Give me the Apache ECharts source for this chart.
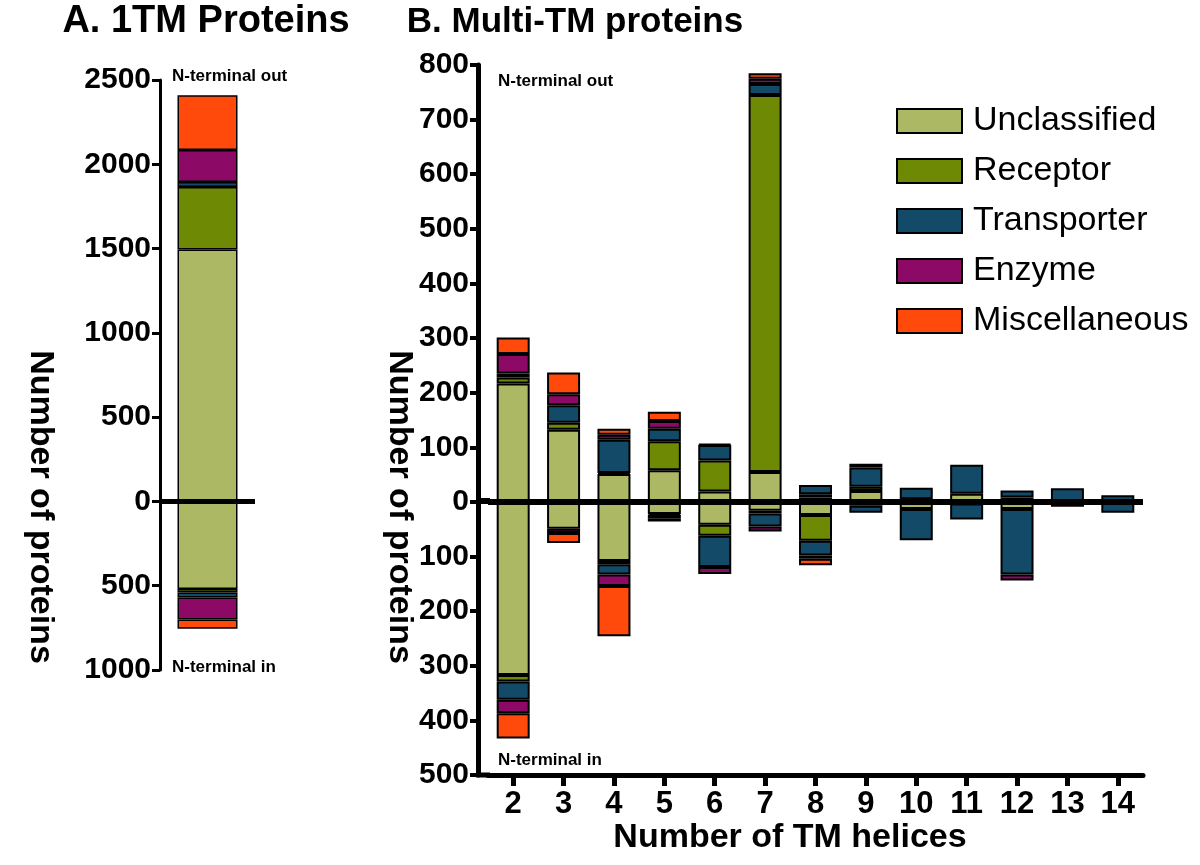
<!DOCTYPE html>
<html>
<head>
<meta charset="utf-8">
<script src="https://cdn.jsdelivr.net/npm/echarts@6/dist/echarts.min.js"></script>
<style>html,body{margin:0;padding:0;background:#fff}#c{width:1200px;height:865px}</style>
</head>
<body>
<div id="c"></div>
<script>
// ---------- DATA ----------
const categoryNames = ['Unclassified', 'Receptor', 'Transporter', 'Enzyme', 'Miscellaneous'];
const categoryColors = ['#adb864', '#6e8a04', '#124a68', '#8c0a66', '#ff4a0c'];

// Panel A: 1TM proteins (out = positive, in = negative), order as categoryNames
const aOut = [1495, 370, 30, 190, 325];
const aIn  = [-520, -20, -30, -130, -55];

// Panel B: multi-TM proteins by number of TM helices
const tmHelices = ['2', '3', '4', '5', '6', '7', '8', '9', '10', '11', '12', '13', '14'];
const bOutUnclassified  = [217, 132, 51, 58, 19, 55, 8, 20, 5, 15, 8, 0, 0];
const bOutReceptor      = [11, 13, 2, 53, 57, 690, 6, 8, 0, 0, 0, 0, 0];
const bOutTransporter   = [7, 32, 61, 23, 28, 20, 17, 35, 21, 53, 13, 25, 12];
const bOutEnzyme        = [36, 20, 9, 14, 2, 10, 0, 0, 0, 0, 0, 0, 0];
const bOutMisc          = [30, 40, 11, 17, 0, 10, 0, 7, 0, 0, 0, 0, 0];
const bInUnclassified   = [-317, -49, -108, -22, -42, -16, -24, -7, -13, -3, -13, 0, 0];
const bInReceptor       = [-12, 0, -6, -2, -20, -5, -47, 0, 0, 0, 0, 0, 0];
const bInTransporter    = [-33, 0, -19, -7, -57, -24, -27, -13, -57, -29, -120, -9, -20];
const bInEnzyme         = [-25, -8, -21, -5, -13, -9, -6, 0, 0, 0, -11, 0, 0];
const bInMisc           = [-46, -18, -92, 0, 0, 0, -12, 0, 0, 0, 0, 0, 0];

// ---------- BUILD ----------
const FF = "'Liberation Sans', Arial, Helvetica, sans-serif";
const bOut = [bOutUnclassified, bOutReceptor, bOutTransporter, bOutEnzyme, bOutMisc];
const bIn  = [bInUnclassified, bInReceptor, bInTransporter, bInEnzyme, bInMisc];
const nz = v => (v === 0 ? '-' : v);

const series = [];
categoryNames.forEach((name, i) => {
  const st = { color: categoryColors[i], borderColor: '#000', borderWidth: 1.5 };
  series.push({ type: 'bar', name, xAxisIndex: 0, yAxisIndex: 0, stack: 'A', barWidth: 60, itemStyle: st, data: [nz(aOut[i])] });
  series.push({ type: 'bar', name, xAxisIndex: 0, yAxisIndex: 0, stack: 'A', barWidth: 60, itemStyle: st, data: [nz(aIn[i])] });
});
categoryNames.forEach((name, i) => {
  const st = { color: categoryColors[i], borderColor: '#000', borderWidth: 2 };
  series.push({ type: 'bar', name, xAxisIndex: 1, yAxisIndex: 1, stack: 'B', barWidth: 33, itemStyle: st, data: bOut[i].map(nz) });
  series.push({ type: 'bar', name, xAxisIndex: 1, yAxisIndex: 1, stack: 'B', barWidth: 33, itemStyle: st, data: bIn[i].map(nz) });
});
const zeroLine = (w) => ({
  silent: true, symbol: ['none', 'none'], label: { show: false },
  lineStyle: { color: '#000', width: w, type: 'solid' },
  data: [{ yAxis: 0 }], z: 10
});
series[0].markLine = zeroLine(5);
series[10].markLine = zeroLine(6);

const absFmt = v => String(Math.abs(v));
const option = {
  animation: false,
  backgroundColor: '#fff',
  textStyle: { fontFamily: FF },
  grid: [
    { left: 160, top: 80, width: 95, height: 590 },
    { left: 488, top: 65, width: 655, height: 710 }
  ],
  xAxis: [
    {
      gridIndex: 0, type: 'category', data: ['1TM'],
      axisLine: { show: false }, axisTick: { show: false }, axisLabel: { show: false }, splitLine: { show: false }
    },
    {
      gridIndex: 1, type: 'category', data: tmHelices, boundaryGap: true,
      axisLine: { show: true, onZero: false, lineStyle: { color: '#000', width: 5 } },
      axisTick: { show: true, inside: false, alignWithLabel: true, length: 11, lineStyle: { color: '#000', width: 5 } },
      axisLabel: { show: true, interval: 0, color: '#000', fontSize: 31, fontWeight: 'bold', fontFamily: FF, margin: 14 },
      splitLine: { show: false }
    }
  ],
  yAxis: [
    {
      gridIndex: 0, type: 'value', min: -1000, max: 2500, interval: 500,
      axisLine: { show: true, lineStyle: { color: '#000', width: 3 } },
      axisTick: { show: true, inside: false, length: 8, lineStyle: { color: '#000', width: 3 } },
      axisLabel: { formatter: absFmt, color: '#000', fontSize: 30, fontWeight: 'bold', fontFamily: FF, margin: 9 },
      splitLine: { show: false }
    },
    {
      gridIndex: 1, type: 'value', min: -500, max: 800, interval: 100, offset: 10,
      axisLine: { show: true, lineStyle: { color: '#000', width: 5 } },
      axisTick: { show: true, inside: false, length: 8, lineStyle: { color: '#000', width: 4 } },
      axisLabel: { formatter: absFmt, color: '#000', fontSize: 30, fontWeight: 'bold', fontFamily: FF, margin: 9 },
      splitLine: { show: false }
    }
  ],
  legend: {
    data: categoryNames, orient: 'vertical', left: 896, top: 104, padding: 0,
    itemWidth: 65, itemHeight: 24, itemGap: 16, icon: 'rect',
    itemStyle: { borderColor: '#000', borderWidth: 2 },
    textStyle: { fontSize: 34, color: '#000', fontFamily: FF, padding: [0, 0, 0, 6] },
    selectedMode: false
  },
  graphic: [
    { type: 'line', shape: { x1: 476, y1: 775, x2: 490, y2: 775 }, style: { stroke: '#000', lineWidth: 5 } },
    { type: 'line', shape: { x1: 476, y1: 501, x2: 490, y2: 501 }, style: { stroke: '#000', lineWidth: 6 } },
    { type: 'text', x: 206, y: 22, style: { text: 'A. 1TM Proteins', fontSize: 38, fontWeight: 'bold', fontFamily: FF, fill: '#000', align: 'center', verticalAlign: 'middle' } },
    { type: 'text', x: 575, y: 22, style: { text: 'B. Multi-TM proteins', fontSize: 35, fontWeight: 'bold', fontFamily: FF, fill: '#000', align: 'center', verticalAlign: 'middle' } },
    { type: 'text', x: 40, y: 507, rotation: -Math.PI / 2, style: { text: 'Number of proteins', fontSize: 34, fontWeight: 'bold', fontFamily: FF, fill: '#000', align: 'center', verticalAlign: 'middle' } },
    { type: 'text', x: 399, y: 507, rotation: -Math.PI / 2, style: { text: 'Number of proteins', fontSize: 34, fontWeight: 'bold', fontFamily: FF, fill: '#000', align: 'center', verticalAlign: 'middle' } },
    { type: 'text', x: 790, y: 838, style: { text: 'Number of TM helices', fontSize: 34, fontWeight: 'bold', fontFamily: FF, fill: '#000', align: 'center', verticalAlign: 'middle' } },
    { type: 'text', x: 172, y: 76, style: { text: 'N-terminal out', fontSize: 17, fontWeight: 'bold', fontFamily: FF, fill: '#000', align: 'left', verticalAlign: 'middle' } },
    { type: 'text', x: 172, y: 667, style: { text: 'N-terminal in', fontSize: 17, fontWeight: 'bold', fontFamily: FF, fill: '#000', align: 'left', verticalAlign: 'middle' } },
    { type: 'text', x: 498, y: 81, style: { text: 'N-terminal out', fontSize: 17, fontWeight: 'bold', fontFamily: FF, fill: '#000', align: 'left', verticalAlign: 'middle' } },
    { type: 'text', x: 498, y: 760, style: { text: 'N-terminal in', fontSize: 17, fontWeight: 'bold', fontFamily: FF, fill: '#000', align: 'left', verticalAlign: 'middle' } }
  ],
  series
};
const chart = echarts.init(document.getElementById('c'), null, { renderer: 'canvas' });
chart.setOption(option);
</script>
</body>
</html>
